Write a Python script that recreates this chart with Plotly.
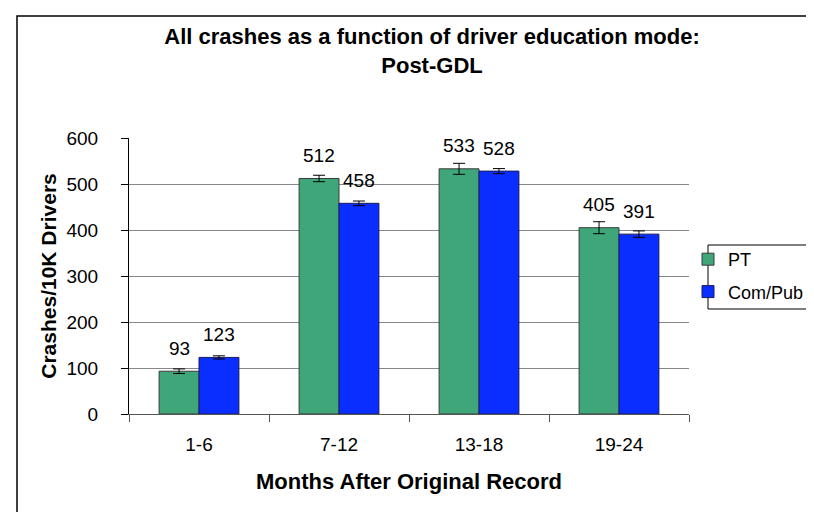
import plotly.graph_objects as go

categories = ["1-6", "7-12", "13-18", "19-24"]
pt_values = [93, 512, 533, 405]
pt_errors = [5, 7, 12, 13]
compub_values = [123, 458, 528, 391]
compub_errors = [3.5, 5, 5.5, 7]
series_names = ["PT", "Com/Pub"]
y_ticks = [0, 100, 200, 300, 400, 500, 600]

title_text = "All crashes as a function of driver education mode:<br>Post-GDL"
x_title = "Months After Original Record"
y_title = "Crashes/10K Drivers"

FONT = "Arial, 'Liberation Sans', sans-serif"
GREEN = "#3FA67A"
BLUE = "#0A2EFF"
BARGAP = 0.43

W, H = 814, 512
L, R, T, B = 121, 133, 130, 106
pw = W - L - R
ph = H - T - B


def px_x(p):
    return (p - L) / pw


def px_y(p):
    return (H - B - p) / ph


fig = go.Figure()
fig.add_trace(go.Bar(
    name=series_names[0], x=categories, y=pt_values, legendgroup="a",
    marker=dict(color=GREEN, line=dict(color="#3a3a3a", width=1)),
    error_y=dict(type="data", array=pt_errors, color="black", thickness=1, width=6),
))
fig.add_trace(go.Bar(
    name=series_names[1], x=categories, y=compub_values, legendgroup="b",
    marker=dict(color=BLUE, line=dict(color="#1a1a5a", width=1)),
    error_y=dict(type="data", array=compub_errors, color="black", thickness=1, width=6),
))

# value labels above the bars
off = (1 - BARGAP) / 4
annotations = []
for i, c in enumerate(categories):
    for vals, sign in ((pt_values, -1), (compub_values, 1)):
        annotations.append(dict(
            x=i + sign * off, y=vals[i], xref="x", yref="y",
            text=str(vals[i]), showarrow=False, yshift=23,
            font=dict(family=FONT, size=19, color="black"),
        ))

shapes = [
    # outer chart frame
    dict(type="rect", xref="paper", yref="paper",
         x0=px_x(9), x1=px_x(840), y0=px_y(530), y1=px_y(8),
         line=dict(color="black", width=1.5), fillcolor="rgba(0,0,0,0)", layer="above"),
    # legend frame
    dict(type="rect", xref="paper", yref="paper",
         x0=px_x(700), x1=px_x(840), y0=px_y(301), y1=px_y(237),
         line=dict(color="black", width=1), fillcolor="rgba(0,0,0,0)", layer="above"),
]

fig.update_layout(
    width=W, height=H,
    margin=dict(l=L, r=R, t=T, b=B, autoexpand=False),
    paper_bgcolor="white", plot_bgcolor="white",
    barmode="group", bargap=BARGAP, bargroupgap=0,
    font=dict(family=FONT, color="black"),
    title=dict(text=title_text, x=424 / W, xanchor="center", xref="container",
               y=1 - 36 / H, yanchor="top", yref="container",
               font=dict(family=FONT, size=22, color="black", weight="bold")),
    xaxis=dict(
        showgrid=False, showline=True, linecolor="#555555", linewidth=1,
        ticks="outside", tickson="boundaries", ticklen=7, tickcolor="#555555",
        tickfont=dict(family=FONT, size=19), ticklabelstandoff=13,
        title=dict(text=x_title, font=dict(family=FONT, size=22, weight="bold"), standoff=19),
    ),
    yaxis=dict(
        range=[0, 600], tickvals=y_ticks, showgrid=True, gridcolor="#888888", gridwidth=1,
        showline=True, linecolor="black", linewidth=1, zeroline=False,
        ticks="outside", ticklen=7, tickcolor="black",
        tickfont=dict(family=FONT, size=19), ticklabelstandoff=19,
        title=dict(text=y_title, font=dict(family=FONT, size=21, weight="bold"), standoff=4),
    ),
    showlegend=True,
    legend=dict(x=px_x(680), y=px_y(233), xanchor="left", yanchor="top",
                bgcolor="rgba(0,0,0,0)", borderwidth=0, traceorder="grouped",
                tracegroupgap=6, itemwidth=30,
                font=dict(family=FONT, size=18, color="black")),
    annotations=annotations,
    shapes=shapes,
)

fig.write_html("out.html")
